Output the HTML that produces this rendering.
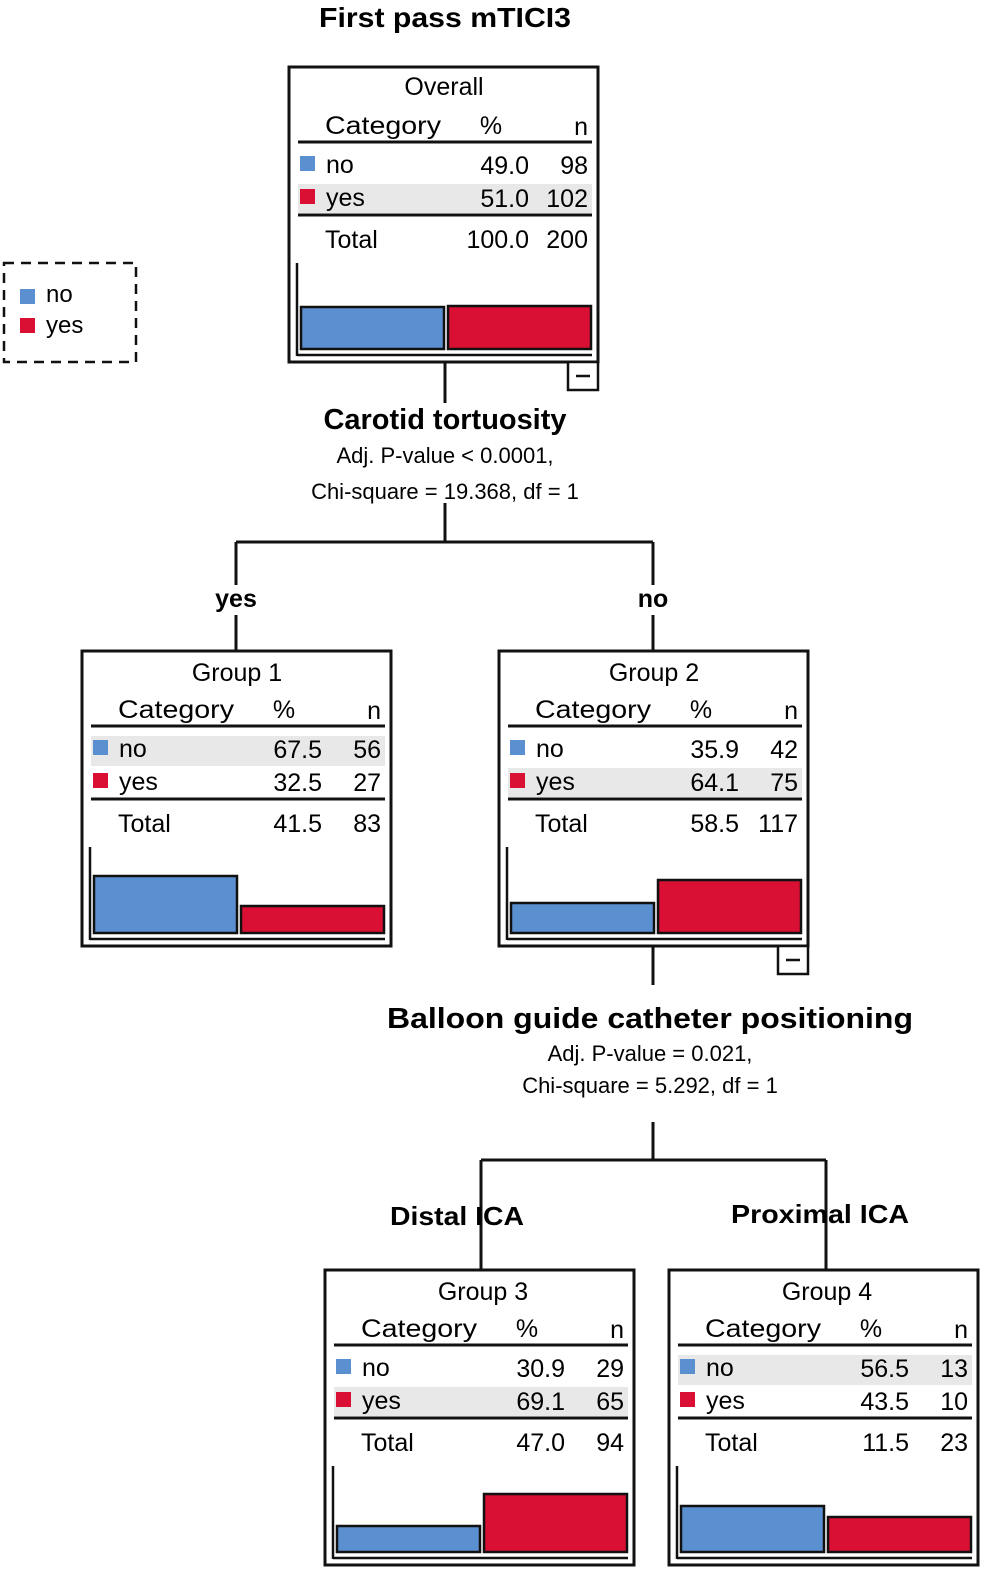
<!DOCTYPE html>
<html><head><meta charset="utf-8"><style>
html,body{margin:0;padding:0;background:#fff;}
svg{display:block;font-family:"Liberation Sans",Arial,sans-serif;}
</style></head><body>
<svg width="986" height="1574" viewBox="0 0 986 1574" xmlns="http://www.w3.org/2000/svg">
<defs>
<g id="tbl">
  <rect x="0" y="0" width="309" height="295" fill="#fff" stroke="#111" stroke-width="3"/>
  <text x="36" y="67" font-size="25" textLength="116" lengthAdjust="spacingAndGlyphs">Category</text>
  <text x="202" y="67" font-size="25" text-anchor="middle">%</text>
  <text x="299" y="68" font-size="25" text-anchor="end">n</text>
  <line x1="9" y1="75" x2="303" y2="75" stroke="#111" stroke-width="3"/>
  <rect x="11" y="89" width="15" height="15" fill="#5b90d0"/>
  <text x="37" y="106" font-size="25">no</text>
  <rect x="11" y="122" width="15" height="15" fill="#d90f33"/>
  <text x="37" y="139" font-size="25">yes</text>
  <line x1="9" y1="148" x2="303" y2="148" stroke="#111" stroke-width="3"/>
  <text x="36" y="181" font-size="25">Total</text>
  <line x1="8" y1="196" x2="8" y2="289" stroke="#111" stroke-width="2.5"/>
  <line x1="8" y1="288" x2="303" y2="288" stroke="#111" stroke-width="2.5"/>
</g>
</defs>

<text x="445" y="27" font-size="28" font-weight="bold" text-anchor="middle" textLength="252" lengthAdjust="spacingAndGlyphs">First pass mTICI3</text>

<!-- legend -->
<rect x="4" y="263" width="132" height="99" fill="none" stroke="#111" stroke-width="2.5" stroke-dasharray="10,7"/>
<rect x="20" y="289" width="15" height="15" fill="#5b90d0"/>
<text x="46" y="302" font-size="24">no</text>
<rect x="20" y="318" width="15" height="15" fill="#d90f33"/>
<text x="46" y="333" font-size="24">yes</text>

<!-- connectors -->
<g stroke="#111" stroke-width="3" fill="none">
<line x1="445" y1="362" x2="445" y2="403"/>
<line x1="445" y1="503" x2="445" y2="542"/>
<line x1="236" y1="542" x2="653" y2="542"/>
<line x1="236" y1="542" x2="236" y2="651"/>
<line x1="653" y1="542" x2="653" y2="651"/>
<line x1="653" y1="945" x2="653" y2="985"/>
<line x1="653" y1="1122" x2="653" y2="1160"/>
<line x1="481" y1="1160" x2="826" y2="1160"/>
<line x1="481" y1="1160" x2="481" y2="1270"/>
<line x1="826" y1="1160" x2="826" y2="1270"/>
</g>
<rect x="200" y="585" width="72" height="30" fill="#fff"/>
<rect x="625" y="585" width="56" height="30" fill="#fff"/>
<text x="236" y="607" font-size="25" font-weight="bold" text-anchor="middle">yes</text>
<text x="653" y="607" font-size="25" font-weight="bold" text-anchor="middle">no</text>
<text x="457" y="1225" font-size="26" font-weight="bold" text-anchor="middle" textLength="134" lengthAdjust="spacingAndGlyphs">Distal ICA</text>
<text x="820" y="1223" font-size="26" font-weight="bold" text-anchor="middle" textLength="178" lengthAdjust="spacingAndGlyphs">Proximal ICA</text>

<text x="445" y="429" font-size="29" font-weight="bold" text-anchor="middle" textLength="243" lengthAdjust="spacingAndGlyphs">Carotid tortuosity</text>
<text x="445" y="463" font-size="22" text-anchor="middle">Adj. P-value &lt; 0.0001,</text>
<text x="445" y="499" font-size="22" text-anchor="middle">Chi-square = 19.368, df = 1</text>

<text x="650" y="1028" font-size="29" font-weight="bold" text-anchor="middle" textLength="526" lengthAdjust="spacingAndGlyphs">Balloon guide catheter positioning</text>
<text x="650" y="1061" font-size="22" text-anchor="middle">Adj. P-value = 0.021,</text>
<text x="650" y="1093" font-size="22" text-anchor="middle">Chi-square = 5.292, df = 1</text>

<!-- Overall -->
<g transform="translate(289,67)">
  <use href="#tbl"/>
  <rect x="9" y="117" width="294" height="29" fill="#e8e8e8"/>
  <rect x="11" y="122" width="15" height="15" fill="#d90f33"/>
  <text x="37" y="139" font-size="25">yes</text>
  <text x="155" y="28" font-size="25" text-anchor="middle">Overall</text>
  <text x="240" y="107" font-size="25" text-anchor="end">49.0</text><text x="299" y="107" font-size="25" text-anchor="end">98</text>
  <text x="240" y="140" font-size="25" text-anchor="end">51.0</text><text x="299" y="140" font-size="25" text-anchor="end">102</text>
  <text x="240" y="181" font-size="25" text-anchor="end">100.0</text><text x="299" y="181" font-size="25" text-anchor="end">200</text>
  <rect x="12" y="240" width="143" height="42" fill="#5b90d0" stroke="#111" stroke-width="2.5"/>
  <rect x="159" y="239" width="143" height="43" fill="#d90f33" stroke="#111" stroke-width="2.5"/>
  <rect x="279" y="295" width="30" height="28" fill="#fff" stroke="#111" stroke-width="2.5"/>
  <line x1="287" y1="309" x2="301" y2="309" stroke="#111" stroke-width="2.5"/>
</g>

<!-- Group 1 -->
<g transform="translate(82,651)">
  <use href="#tbl"/>
  <rect x="9" y="85" width="294" height="30" fill="#e8e8e8"/>
  <rect x="11" y="89" width="15" height="15" fill="#5b90d0"/>
  <text x="37" y="106" font-size="25">no</text>
  <text x="155" y="30" font-size="25" text-anchor="middle">Group 1</text>
  <text x="240" y="107" font-size="25" text-anchor="end">67.5</text><text x="299" y="107" font-size="25" text-anchor="end">56</text>
  <text x="240" y="140" font-size="25" text-anchor="end">32.5</text><text x="299" y="140" font-size="25" text-anchor="end">27</text>
  <text x="240" y="181" font-size="25" text-anchor="end">41.5</text><text x="299" y="181" font-size="25" text-anchor="end">83</text>
  <rect x="12" y="225" width="143" height="57" fill="#5b90d0" stroke="#111" stroke-width="2.5"/>
  <rect x="159" y="255" width="143" height="27" fill="#d90f33" stroke="#111" stroke-width="2.5"/>
</g>

<!-- Group 2 -->
<g transform="translate(499,651)">
  <use href="#tbl"/>
  <rect x="9" y="117" width="294" height="29" fill="#e8e8e8"/>
  <rect x="11" y="122" width="15" height="15" fill="#d90f33"/>
  <text x="37" y="139" font-size="25">yes</text>
  <text x="155" y="30" font-size="25" text-anchor="middle">Group 2</text>
  <text x="240" y="107" font-size="25" text-anchor="end">35.9</text><text x="299" y="107" font-size="25" text-anchor="end">42</text>
  <text x="240" y="140" font-size="25" text-anchor="end">64.1</text><text x="299" y="140" font-size="25" text-anchor="end">75</text>
  <text x="240" y="181" font-size="25" text-anchor="end">58.5</text><text x="299" y="181" font-size="25" text-anchor="end">117</text>
  <rect x="12" y="252" width="143" height="30" fill="#5b90d0" stroke="#111" stroke-width="2.5"/>
  <rect x="159" y="229" width="143" height="53" fill="#d90f33" stroke="#111" stroke-width="2.5"/>
  <rect x="279" y="295" width="30" height="28" fill="#fff" stroke="#111" stroke-width="2.5"/>
  <line x1="287" y1="309" x2="301" y2="309" stroke="#111" stroke-width="2.5"/>
</g>

<!-- Group 3 -->
<g transform="translate(325,1270)">
  <use href="#tbl"/>
  <rect x="9" y="117" width="294" height="29" fill="#e8e8e8"/>
  <rect x="11" y="122" width="15" height="15" fill="#d90f33"/>
  <text x="37" y="139" font-size="25">yes</text>
  <text x="158" y="30" font-size="25" text-anchor="middle">Group 3</text>
  <text x="240" y="107" font-size="25" text-anchor="end">30.9</text><text x="299" y="107" font-size="25" text-anchor="end">29</text>
  <text x="240" y="140" font-size="25" text-anchor="end">69.1</text><text x="299" y="140" font-size="25" text-anchor="end">65</text>
  <text x="240" y="181" font-size="25" text-anchor="end">47.0</text><text x="299" y="181" font-size="25" text-anchor="end">94</text>
  <rect x="12" y="256" width="143" height="26" fill="#5b90d0" stroke="#111" stroke-width="2.5"/>
  <rect x="159" y="224" width="143" height="58" fill="#d90f33" stroke="#111" stroke-width="2.5"/>
</g>

<!-- Group 4 -->
<g transform="translate(669,1270)">
  <use href="#tbl"/>
  <rect x="9" y="85" width="294" height="30" fill="#e8e8e8"/>
  <rect x="11" y="89" width="15" height="15" fill="#5b90d0"/>
  <text x="37" y="106" font-size="25">no</text>
  <text x="158" y="30" font-size="25" text-anchor="middle">Group 4</text>
  <text x="240" y="107" font-size="25" text-anchor="end">56.5</text><text x="299" y="107" font-size="25" text-anchor="end">13</text>
  <text x="240" y="140" font-size="25" text-anchor="end">43.5</text><text x="299" y="140" font-size="25" text-anchor="end">10</text>
  <text x="240" y="181" font-size="25" text-anchor="end">11.5</text><text x="299" y="181" font-size="25" text-anchor="end">23</text>
  <rect x="12" y="236" width="143" height="46" fill="#5b90d0" stroke="#111" stroke-width="2.5"/>
  <rect x="159" y="247" width="143" height="35" fill="#d90f33" stroke="#111" stroke-width="2.5"/>
</g>
</svg>
</body></html>
